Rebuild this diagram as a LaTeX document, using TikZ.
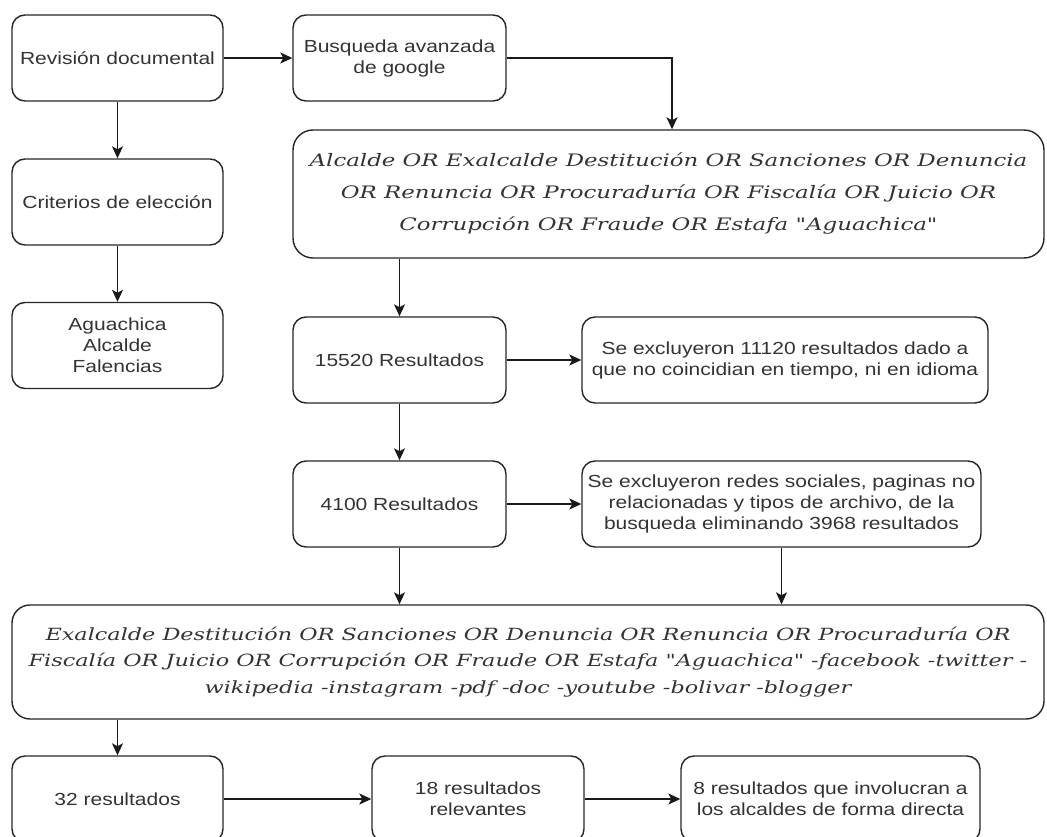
\documentclass[tikz,border=0pt]{standalone}
\usepackage{fontspec}
\setmainfont{Liberation Sans}[FakeStretch=1.2]
\newfontfamily\qfont{DejaVu Serif}[FakeStretch=1.33]
\usetikzlibrary{arrows.meta}
\tikzset{
  box/.style={draw=black!85, line width=1.4pt, rounded corners=13pt, align=center,
    font=\fontsize{17.5}{21}\selectfont, text=black!80, inner sep=0pt,
    minimum height=86pt},
  qbox/.style={box, rounded corners=20pt},
  arr/.style={draw=black!90, line width=1.4pt, -{Stealth[length=12pt,width=11pt,inset=3pt]}}
}
\begin{document}
\begin{tikzpicture}[x=1pt,y=-1pt]
\useasboundingbox (0,0) rectangle (1047,837);
% left column
\node[box, minimum width=211] (rev) at (117.5,58) {Revisión documental};
\node[box, minimum width=211] (crit) at (117.5,202) {Criterios de elección};
\node[box, minimum width=211] (agua) at (117.5,345.5) {Aguachica\\Alcalde\\Falencias};
% search
\node[box, minimum width=213] (busq) at (399.5,58) {Busqueda avanzada\\de google};
\node[qbox, minimum width=751, minimum height=128,
  font=\qfont\itshape\fontsize{17.2}{32}\selectfont] (q1) at (668.5,194)
  {Alcalde OR Exalcalde Destitución OR Sanciones OR Denuncia\\
   OR Renuncia OR Procuraduría OR Fiscalía OR Juicio OR\\
   Corrupción OR Fraude OR Estafa "Aguachica"};
\node[box, minimum width=213] (r1) at (399.5,360) {15520 Resultados};
\node[box, minimum width=406] (ex1) at (785,360) {Se excluyeron 11120 resultados dado a\\que no coincidian en tiempo, ni en idioma};
\node[box, minimum width=213] (r2) at (399.5,504) {4100 Resultados};
\node[box, minimum width=399] (ex2) at (781.5,504) {Se excluyeron redes sociales, paginas no\\relacionadas y tipos de archivo, de la\\busqueda eliminando 3968 resultados};
\node[qbox, rounded corners=18pt, minimum width=1032, minimum height=114,
  font=\qfont\itshape\fontsize{16.8}{26.5}\selectfont] (q2) at (528,662)
  {Exalcalde Destitución OR Sanciones OR Denuncia OR Renuncia OR Procuraduría OR\\
   Fiscalía OR Juicio OR Corrupción OR Fraude OR Estafa "Aguachica" -facebook -twitter -\\
   wikipedia -instagram -pdf -doc -youtube -bolivar -blogger};
\node[box, minimum width=211] (b32) at (117.5,799) {32 resultados};
\node[box, minimum width=212] (b18) at (478,799) {18 resultados\\relevantes};
\node[box, minimum width=299] (b8) at (830.5,799) {8 resultados que involucran a\\los alcaldes de forma directa};
% connectors
\draw[arr] (rev.east) -- (busq.west);
\draw[arr] (rev.south) -- (crit.north);
\draw[arr] (crit.south) -- (agua.north);
\draw[arr] (busq.east) -| ([xshift=3.5pt]q1.north);
\draw[arr] (q1.south -| r1.north) -- (r1.north);
\draw[arr] (r1.east) -- (ex1.west);
\draw[arr] (r1.south) -- (r2.north);
\draw[arr] (r2.east) -- (ex2.west);
\draw[arr] (r2.south) -- (r2.south |- q2.north);
\draw[arr] (ex2.south) -- (ex2.south |- q2.north);
\draw[arr] (q2.south -| b32.north) -- (b32.north);
\draw[arr] (b32.east) -- (b18.west);
\draw[arr] (b18.east) -- (b8.west);
\end{tikzpicture}
\end{document}
